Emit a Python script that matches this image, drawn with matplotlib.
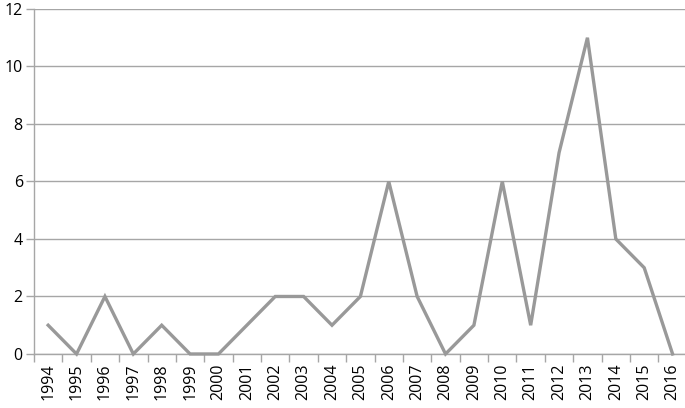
import matplotlib
matplotlib.use("Agg")
import matplotlib.pyplot as plt
import numpy as np

years = [str(y) for y in range(1994, 2017)]
counts = [1, 0, 2, 0, 1, 0, 0, 1, 2, 2, 1, 2, 6, 2, 0, 1, 6, 1, 7, 11, 4, 3, 0]

plt.rcParams['font.family'] = ['Open Sans', 'DejaVu Sans']
grid_col = '#a6a6a6'

fig = plt.figure(figsize=(6.85, 4.08), dpi=100)
ax = fig.add_axes([0.0496, 0.1324, 0.953, 0.8456])

x = np.arange(len(years))
ax.plot(x, counts, color='#999999', lw=2.4, solid_joinstyle='miter', zorder=3, clip_on=False)

ax.set_xlim(-0.5, len(years) - 0.5)
ax.set_ylim(0, 12)
ax.set_yticks(range(0, 13, 2))
ax.yaxis.grid(True, color=grid_col, lw=1)
ax.set_axisbelow(True)

ax.set_xticks(x)
ax.set_xticklabels(years, rotation=90)
ax.set_xticks(np.arange(-0.5, len(years), 1), minor=True)
ax.tick_params(axis='x', which='major', length=0, pad=7, labelsize=11.5)
ax.tick_params(axis='x', which='minor', length=6, color=grid_col, width=1)
ax.tick_params(axis='y', length=6, color=grid_col, width=1, labelsize=11.5, pad=2)

for s in ['top', 'right']:
    ax.spines[s].set_visible(False)
for s in ['left', 'bottom']:
    ax.spines[s].set_color(grid_col)
    ax.spines[s].set_linewidth(1)

fig.savefig('out.png', dpi=100)
